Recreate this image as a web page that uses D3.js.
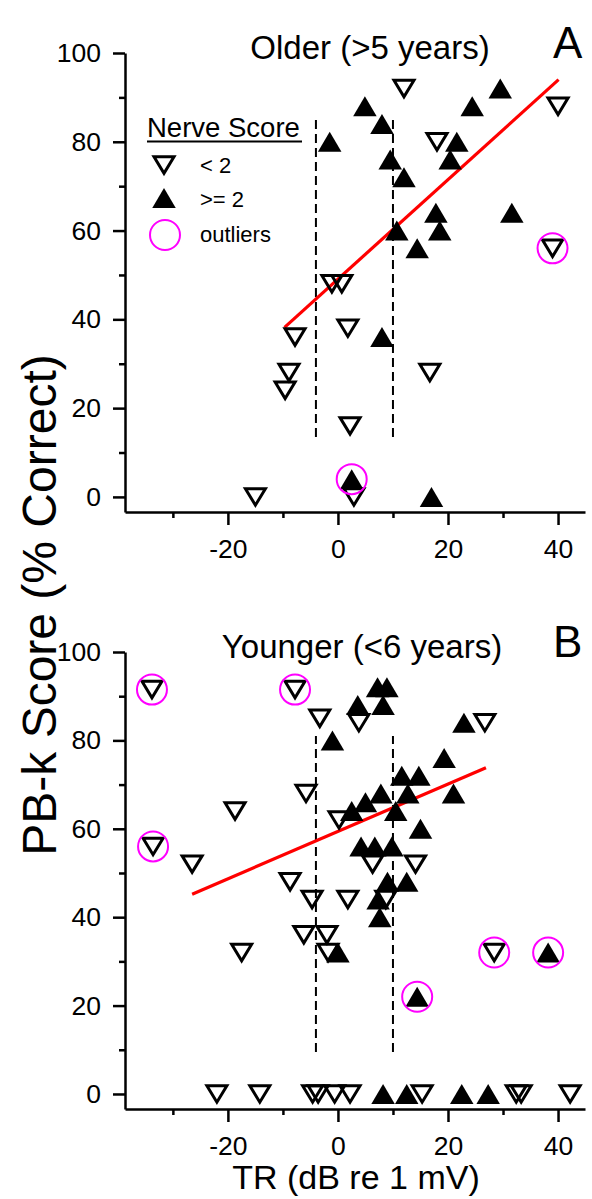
<!DOCTYPE html>
<html>
<head>
<meta charset="utf-8">
<script src="https://cdn.jsdelivr.net/npm/d3@7"></script>
<style>
  html, body { margin: 0; padding: 0; background: #fff; }
  svg { display: block; font-family: "Liberation Sans", Arial, sans-serif; }
</style>
</head>
<body>
<svg id="chart" width="592" height="1199"></svg>
<script>
// ---- data: [TR (dB re 1 mV), PB-k score (% correct)] ----
// Panel A: older (>5 years)
const olderLow = [ // nerve score < 2
  [-1.1, 48], [0.7, 48], [12, 92], [40, 88], [18, 80], [39, 56],
  [1.8, 38], [16.7, 28], [2.2, 16], [2.9, 0], [-7.8, 36], [-8.9, 28],
  [-9.6, 24], [-15, 0]
];
const olderHigh = [ // nerve score >= 2
  [-1.5, 80], [4.9, 88], [8, 84], [29.5, 92], [24.4, 88], [21.6, 80],
  [20.4, 76], [9.5, 76], [12, 72], [17.8, 64], [31.6, 64], [10.7, 60],
  [18.5, 60], [14.4, 56], [8, 36], [2.5, 4], [17, 0]
];
const olderOutliers = [[39, 56], [2.5, 4]];
const olderFit = [[-9.7, 38.2], [40.1, 94]];
const olderBounds = [-4, 10];
const olderBoundSpan = [13.5, 85];

// Panel B: younger (<6 years)
const youngerLow = [
  [-33.8, 91.5], [-7.8, 91.5], [-3.3, 85], [3.8, 84], [26.7, 84], [-5.8, 68],
  [-18.7, 64], [0.2, 62], [-33.6, 56], [-26.5, 52], [6.3, 52], [14.1, 52],
  [-8.7, 48], [-4.7, 44], [1.8, 44], [8.7, 44], [-6.2, 36], [-2, 36],
  [-1.8, 32], [-17.5, 32], [28.4, 32],
  [-22, 0], [-14.2, 0], [-4.6, 0], [-3.6, 0], [-0.6, 0], [2.2, 0],
  [15.3, 0], [32.4, 0], [33.3, 0], [42.2, 0]
];
const youngerHigh = [
  [-1, 80], [7.2, 92], [8.9, 92], [3.6, 88], [8.2, 88], [22.9, 84],
  [19.3, 76], [11.6, 72], [14.7, 72], [7.8, 68], [12.7, 68], [21, 68],
  [5, 66], [2.5, 64], [10.5, 64], [15, 60], [4.2, 56], [6.7, 56],
  [9.8, 56], [9, 48], [12.5, 48], [7.3, 44], [7.6, 40], [0, 32],
  [14.4, 22], [38.2, 32],
  [8.2, 0], [12.5, 0], [22.5, 0], [27.3, 0]
];
const youngerOutliers = [[-33.8, 91.5], [-7.8, 91.5], [-33.6, 56], [14.4, 22], [28.4, 32], [38.2, 32]];
const youngerFit = [[-26.5, 45.2], [26.9, 73.8]];
const youngerBounds = [-4, 10];
const youngerBoundSpan = [9.5, 81];

// ticks and labels
const xMajor = [-20, 0, 20, 40];
const xMinor = [-30, -10, 10, 30];
const yMajor = [0, 20, 40, 60, 80, 100];
const yMinor = [10, 30, 50, 70, 90];
const xDomain = [-38.7, 44.9];
const yDomain = [-3.4, 100];
const legendLabels = ["< 2", ">= 2", "outliers"];

const panels = [
  { title: "Older (>5 years)", letter: "A", low: olderLow, high: olderHigh,
    outliers: olderOutliers, fit: olderFit, bounds: olderBounds, span: olderBoundSpan,
    top: 53, bottom: 512, titleX: 370, legend: true },
  { title: "Younger (<6 years)", letter: "B", low: youngerLow, high: youngerHigh,
    outliers: youngerOutliers, fit: youngerFit, bounds: youngerBounds, span: youngerBoundSpan,
    top: 652, bottom: 1109, titleX: 362, legend: false }
];

const svg = d3.select("#chart");
const left = 125, right = 585;
const x = d3.scaleLinear().domain(xDomain).range([left, right]);
const plain = d => String(d); // hyphen-minus, as in the printed figure

// marker shapes, centred on their bounding box
const upTri = (w, h) => `M0,${-h / 2}L${w / 2},${h / 2}L${-w / 2},${h / 2}Z`;
const downTri = (w, h) => `M${-w / 2},${-h / 2}L${w / 2},${-h / 2}L0,${h / 2}Z`;

function drawOpen(g, cx, cy) {
  g.append("path").attr("d", downTri(20, 16.5))
    .attr("transform", `translate(${cx},${cy})`)
    .attr("fill", "none").attr("stroke", "#000").attr("stroke-width", 3);
}
function drawFilled(g, cx, cy) {
  g.append("path").attr("d", upTri(23.5, 20))
    .attr("transform", `translate(${cx},${cy})`)
    .attr("fill", "#000");
}
function drawRing(g, cx, cy) {
  g.append("circle").attr("cx", cx).attr("cy", cy).attr("r", 15)
    .attr("fill", "none").attr("stroke", "#ff00ff").attr("stroke-width", 2);
}

panels.forEach(p => {
  const y = d3.scaleLinear().domain(yDomain).range([p.bottom, p.top]);
  const g = svg.append("g");

  // axes: major ticks
  const yAxis = d3.axisLeft(y).tickValues(yMajor).tickSize(12).tickSizeOuter(0)
    .tickPadding(12).tickFormat(plain);
  const xAxis = d3.axisBottom(x).tickValues(xMajor).tickSize(13).tickSizeOuter(0)
    .tickPadding(14).tickFormat(plain);
  g.append("g").attr("transform", `translate(${left},0)`).call(yAxis);
  g.append("g").attr("transform", `translate(0,${p.bottom})`).call(xAxis);
  // minor ticks
  g.append("g").attr("transform", `translate(${left},0)`)
    .call(d3.axisLeft(y).tickValues(yMinor).tickSize(6).tickSizeOuter(0).tickFormat(""))
    .select(".domain").remove();
  g.append("g").attr("transform", `translate(0,${p.bottom})`)
    .call(d3.axisBottom(x).tickValues(xMinor).tickSize(6).tickSizeOuter(0).tickFormat(""))
    .select(".domain").remove();
  g.selectAll(".domain, .tick line").attr("stroke", "#000").attr("stroke-width", 2.5);
  g.selectAll(".tick text").attr("fill", "#000").attr("font-size", 26.5)
    .attr("font-family", "'Liberation Sans', Arial, sans-serif");

  // vertical dashed boundaries
  g.selectAll("line.bound").data(p.bounds).join("line")
    .attr("class", "bound")
    .attr("x1", d => x(d)).attr("x2", d => x(d))
    .attr("y1", y(p.span[0])).attr("y2", y(p.span[1]))
    .attr("stroke", "#000").attr("stroke-width", 2).attr("stroke-dasharray", "9,5");

  // regression line
  g.append("path").datum(p.fit)
    .attr("d", d3.line().x(d => x(d[0])).y(d => y(d[1])))
    .attr("stroke", "#ff0000").attr("stroke-width", 3.2).attr("fill", "none");

  // markers
  p.low.forEach(d => drawOpen(g, x(d[0]), y(d[1])));
  p.high.forEach(d => drawFilled(g, x(d[0]), y(d[1])));
  p.outliers.forEach(d => drawRing(g, x(d[0]), y(d[1])));

  // panel title and letter
  g.append("text").attr("x", p.titleX).attr("y", p.top + 6)
    .attr("text-anchor", "middle").attr("font-size", 33).text(p.title);
  g.append("text").attr("x", 553).attr("y", p.top + 5)
    .attr("font-size", 44).text(p.letter);

  if (p.legend) {
    const lg = g.append("g");
    lg.append("text").attr("x", 147).attr("y", 137).attr("font-size", 27.5).text("Nerve Score");
    lg.append("line").attr("x1", 147).attr("x2", 302).attr("y1", 141.5).attr("y2", 141.5)
      .attr("stroke", "#000").attr("stroke-width", 2);
    drawOpen(lg, 164, 165);
    drawFilled(lg, 164, 198);
    drawRing(lg, 165, 235);
    const ys = [173, 207, 242];
    legendLabels.forEach((t, i) => {
      lg.append("text").attr("x", 200).attr("y", ys[i]).attr("font-size", 22).text(t);
    });
  }
});

// shared axis titles
svg.append("text")
  .attr("transform", "translate(56,605) rotate(-90)")
  .attr("text-anchor", "middle").attr("font-size", 48)
  .text("PB-k Score (% Correct)");
svg.append("text")
  .attr("x", 356).attr("y", 1189)
  .attr("text-anchor", "middle").attr("font-size", 34)
  .text("TR (dB re 1 mV)");
</script>
</body>
</html>
